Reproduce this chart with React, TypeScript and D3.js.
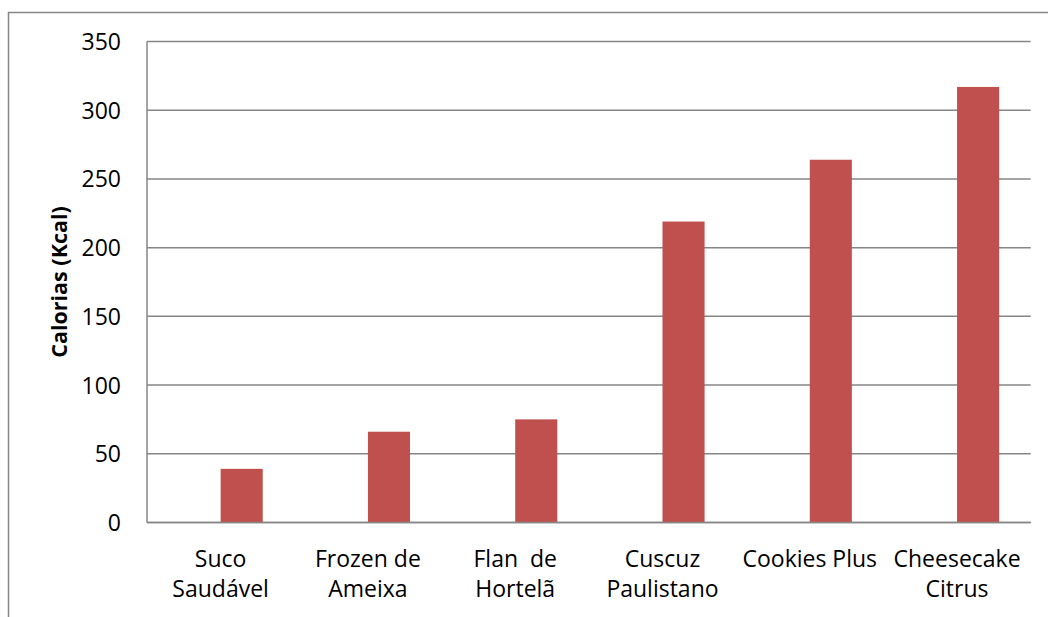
import React from "react";
import * as d3 from "d3";

// Calorie content per product
const categories = [
  "Suco Saudável",
  "Frozen de Ameixa",
  "Flan de Hortelã",
  "Cuscuz Paulistano",
  "Cookies Plus",
  "Cheesecake Citrus",
];
// Wrapped axis label lines for each category
const categoryLines: string[][] = [
  ["Suco", "Saudável"],
  ["Frozen de", "Ameixa"],
  ["Flan  de", "Hortelã"],
  ["Cuscuz", "Paulistano"],
  ["Cookies Plus"],
  ["Cheesecake", "Citrus"],
];
// Two series slots per category; the first one is empty and the second holds the values
const seriesNames = ["", "Calorias"];
const calories = [39, 66, 75, 219, 264, 317];
const yTicks = [0, 50, 100, 150, 200, 250, 300, 350];
const yTitle = "Calorias (Kcal)";

const W = 1048;
const H = 617;
const plot = { left: 147, right: 1030.7, top: 41.6, bottom: 522.4 };
const FONT = "'Open Sans', sans-serif";
const GRID = "#868686";
const BAR = "#C0504D";

export default function App() {
  const x0 = d3
    .scaleBand<string>()
    .domain(categories)
    .range([plot.left, plot.right])
    .paddingInner(0)
    .paddingOuter(0);
  const x1 = d3
    .scaleBand<string>()
    .domain(seriesNames)
    .range([0, x0.bandwidth()])
    .paddingInner(0)
    .paddingOuter(0.75);
  const y = d3.scaleLinear().domain([0, 350]).range([plot.bottom, plot.top]);

  return (
    <svg
      width={W}
      height={H}
      style={{ position: "absolute", left: 0, top: 0, display: "block", background: "#fff" }}
    >
      {/* chart frame */}
      <rect x={8.5} y={12.5} width={W + 20} height={H + 20} fill="#fff" stroke={GRID} strokeWidth={1.5} />

      {/* horizontal gridlines */}
      {yTicks.map((t) => (
        <line
          key={t}
          x1={plot.left}
          x2={plot.right}
          y1={y(t)}
          y2={y(t)}
          stroke={GRID}
          strokeWidth={1.5}
        />
      ))}

      {/* bars */}
      {categories.map((c, i) => (
        <rect
          key={c}
          x={(x0(c) ?? 0) + (x1("Calorias") ?? 0)}
          y={y(calories[i])}
          width={x1.bandwidth()}
          height={y(0) - y(calories[i])}
          fill={BAR}
        />
      ))}

      {/* axes */}
      <line x1={plot.left} x2={plot.left} y1={plot.top} y2={plot.bottom} stroke={GRID} strokeWidth={1.5} />
      <line x1={plot.left} x2={plot.right} y1={plot.bottom} y2={plot.bottom} stroke={GRID} strokeWidth={1.5} />

      {/* y tick labels */}
      {yTicks.map((t) => (
        <text
          key={t}
          x={121}
          y={y(t) + 8.5}
          textAnchor="end"
          fontFamily={FONT}
          fontSize={23}
          fill="#000"
        >
          {t}
        </text>
      ))}

      {/* x category labels */}
      {categories.map((c, i) => {
        const cx = (x0(c) ?? 0) + x0.bandwidth() / 2;
        return (
          <text
            key={c}
            textAnchor="middle"
            fontFamily={FONT}
            fontSize={23}
            fill="#000"
            style={{ whiteSpace: "pre" }}
          >
            {categoryLines[i].map((line, j) => (
              <tspan key={j} x={cx} y={566.5 + j * 30.5}>
                {line}
              </tspan>
            ))}
          </text>
        );
      })}

      {/* y axis title */}
      <text
        transform={`translate(67,${(plot.top + plot.bottom) / 2}) rotate(-90)`}
        textAnchor="middle"
        fontFamily={FONT}
        fontWeight="bold"
        fontSize={21.5}
        fill="#000"
      >
        {yTitle}
      </text>
    </svg>
  );
}
